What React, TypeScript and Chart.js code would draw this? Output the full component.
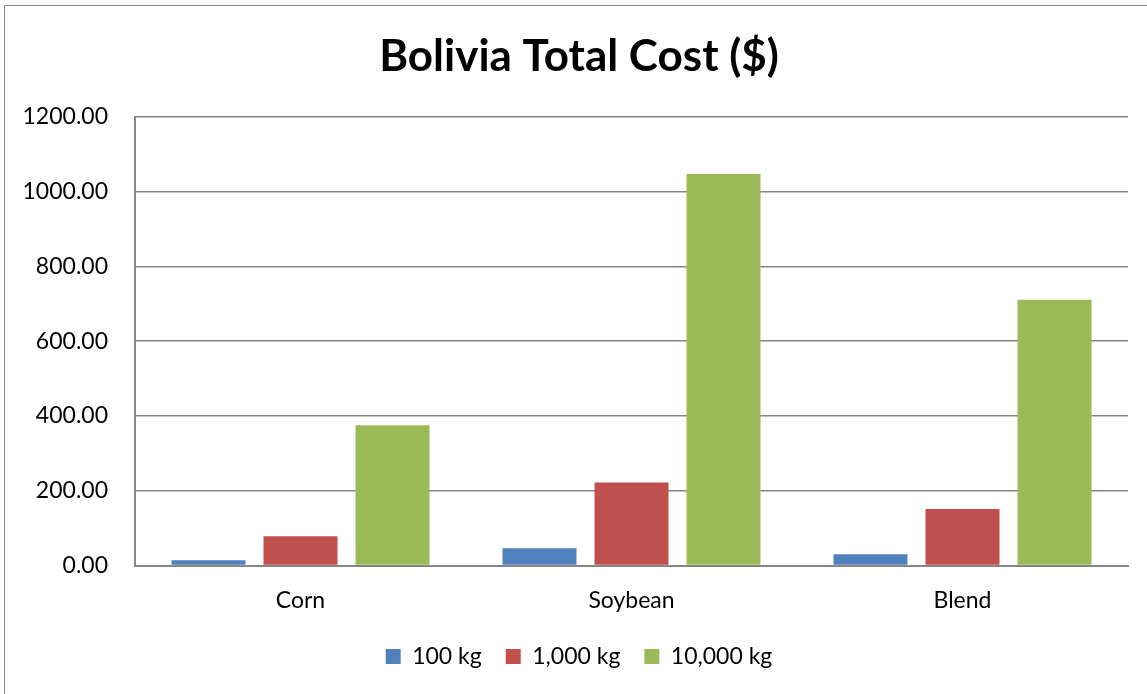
import { useEffect, useRef } from "react";
import { Chart, registerables } from "chart.js";

Chart.register(...registerables);

// Categories and series values (total cost in $)
const categories = ["Corn", "Soybean", "Blend"];
const seriesNames = ["100 kg", "1,000 kg", "10,000 kg"];
const cost100kg = [14, 46, 30];
const cost1000kg = [78, 222, 151];
const cost10000kg = [375, 1047, 711];
const seriesColors = ["#4F81BD", "#C0504D", "#9BBB59"];

const yMin = 0;
const yMax = 1200;
const yStep = 200;

const FONT = "Lato, 'Open Sans', sans-serif";
const GRID = "#878787";

export default function App() {
  const canvasRef = useRef<HTMLCanvasElement | null>(null);

  useEffect(() => {
    const canvas = canvasRef.current;
    if (!canvas) return;
    const values = [cost100kg, cost1000kg, cost10000kg];
    const chart = new Chart(canvas, {
      type: "bar",
      data: {
        labels: categories,
        datasets: seriesNames.map((name, i) => ({
          label: name,
          data: values[i],
          backgroundColor: seriesColors[i],
          borderWidth: 0,
          categoryPercentage: 0.834,
          barPercentage: 0.804,
        })),
      },
      options: {
        animation: false,
        responsive: false,
        devicePixelRatio: 1,
        layout: { padding: { left: 11, right: 0, top: 0, bottom: 16 } },
        plugins: {
          title: {
            display: true,
            text: "Bolivia Total Cost ($)",
            color: "#000",
            font: { family: FONT, size: 44, weight: "bold" },
            padding: { top: 30, bottom: 34 },
          },
          legend: {
            display: true,
            position: "bottom",
            labels: {
              color: "#000",
              font: { family: FONT, size: 23 },
              boxWidth: 15,
              boxHeight: 15,
              padding: 24,
            },
          },
          tooltip: { enabled: false },
        },
        scales: {
          x: {
            afterFit: (scale: any) => {
              scale.height = 55.5;
            },
            grid: { display: false, drawTicks: false },
            border: { display: true, color: GRID, width: 2 },
            ticks: {
              color: "#000",
              font: { family: FONT, size: 23 },
              padding: 21,
            },
          },
          y: {
            min: yMin,
            max: yMax,
            afterFit: (scale: any) => {
              scale.width = 124;
            },
            grid: { color: GRID, lineWidth: 1.5, drawTicks: false },
            border: { display: true, color: GRID, width: 2 },
            ticks: {
              stepSize: yStep,
              color: "#000",
              font: { family: FONT, size: 23 },
              padding: 27,
              callback: (v: any) => Number(v).toFixed(2),
            },
          },
          // empty right-hand margin between the plot and the frame
          yRight: {
            position: "right",
            display: true,
            afterFit: (scale: any) => {
              scale.width = 19;
            },
            grid: { display: false, drawTicks: false },
            border: { display: false },
            ticks: { display: false },
          },
        },
      },
    });
    return () => chart.destroy();
  }, []);

  return (
    <div
      style={{
        position: "fixed",
        left: 0,
        top: 0,
        width: 1147,
        height: 694,
        overflow: "hidden",
        background: "#fff",
      }}
    >
      <div
        style={{
          position: "absolute",
          left: 4,
          top: 5,
          width: 1300,
          height: 900,
          border: "1px solid #888",
        }}
      />
      <canvas
        ref={canvasRef}
        width={1147}
        height={694}
        style={{ position: "absolute", left: 0, top: 0, width: 1147, height: 694 }}
      />
    </div>
  );
}
